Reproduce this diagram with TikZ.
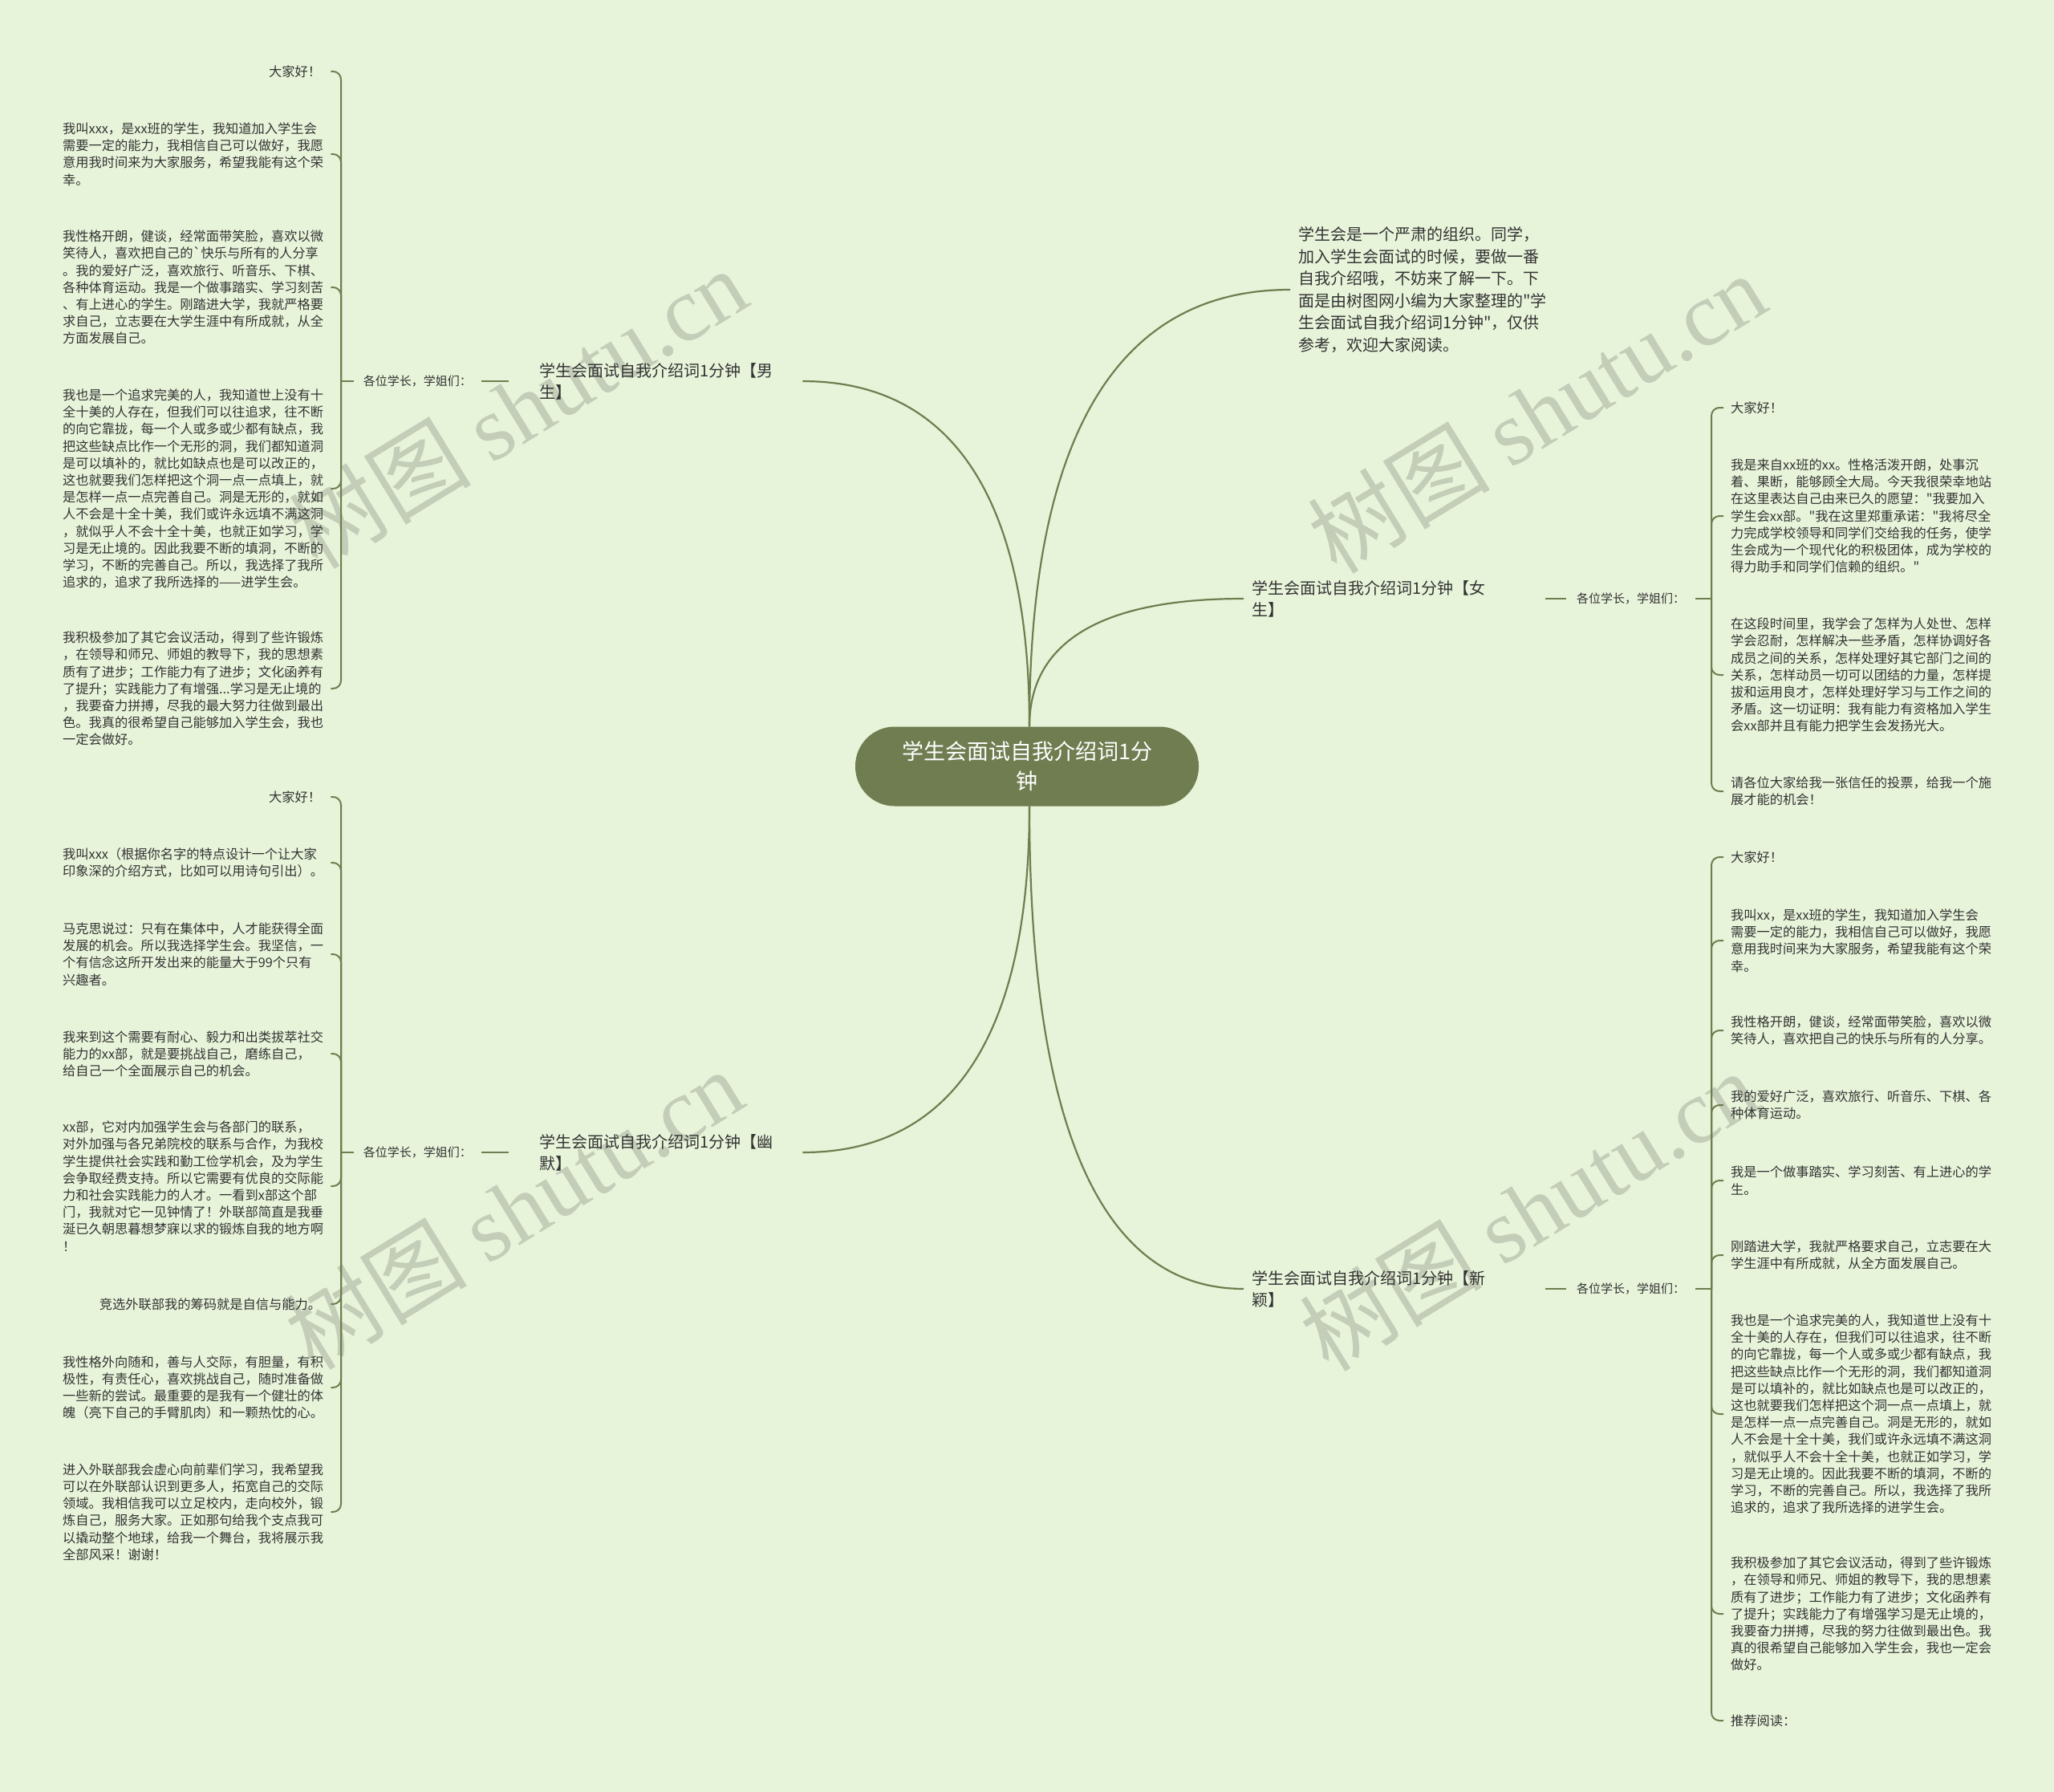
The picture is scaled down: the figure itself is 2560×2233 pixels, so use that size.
\documentclass[tikz,border=0pt]{standalone}
\usepackage{fontspec}
\setmainfont{Noto Sans CJK SC}[Ligatures=TeXOff]
\newfontfamily\wmlatin{Liberation Serif}
\definecolor{bgc}{HTML}{E8F4DA}
\definecolor{lnc}{HTML}{6F7D4F}
\definecolor{ctrc}{HTML}{6F7D50}
\definecolor{txc}{HTML}{333333}
\definecolor{wmc}{HTML}{8E9486}
\begin{document}
\begin{tikzpicture}[x=1pt,y=-1pt,
  branch/.style={draw=lnc, line width=2.2pt},
  brk/.style={draw=lnc, line width=2pt, rounded corners=10pt},
  leaf/.style={anchor=west, inner sep=0pt, text width=322pt, align=left, text=txc, font=\fontsize{16.25}{21.2}\selectfont},
  leafr/.style={leaf, align=right},
  rleaf/.style={leaf, text width=330pt},
  sublab/.style={inner xsep=12pt, inner ysep=2pt, text=txc, font=\fontsize{15}{18}\selectfont},
  lbranch/.style={anchor=west, inner xsep=38pt, inner ysep=2pt, text width=290pt, align=left, text=txc, font=\fontsize{20}{27}\selectfont},
  rbranch/.style={anchor=west, inner xsep=10pt, inner ysep=2pt, text width=356pt, align=left, text=txc, font=\fontsize{20}{27}\selectfont},
  summ/.style={anchor=west, inner xsep=10pt, inner ysep=2pt, align=left, text=txc, font=\fontsize{20}{27.6}\selectfont},
  ctrnode/.style={fill=ctrc, draw=none, rounded corners=49pt, minimum width=428pt, minimum height=99pt, align=center, text=white, font=\fontsize{27}{37}\selectfont},
  wm/.style={text=wmc, opacity=0.4, font=\fontsize{114}{120}\selectfont, rotate=31.5}
]
\useasboundingbox (0,0) rectangle (2560,2233);
\fill[bgc] (0,0) rectangle (2560,2233);

% watermarks
\node[wm] (w1) at (645,508) {树图 {\wmlatin shutu.cn}};
\node[wm] (w2) at (1915,514) {树图 {\wmlatin shutu.cn}};
\node[wm] (w3) at (640,1506) {树图 {\wmlatin shutu.cn}};
\node[wm] (w4) at (1905,1508) {树图 {\wmlatin shutu.cn}};

% center
\node[ctrnode] (c) at (1280,955) {学生会面试自我介绍词1分\\钟};

% summary
\node[summ] (sum) at (1608,361) {学生会是一个严肃的组织。同学，\\加入学生会面试的时候，要做一番\\自我介绍哦，不妨来了解一下。下\\面是由树图网小编为大家整理的"学\\生会面试自我介绍词1分钟"，仅供\\参考，欢迎大家阅读。};

% branches
\node[lbranch] (b1) at (634,475) {学生会面试自我介绍词1分钟【男\\生】};
\node[lbranch] (b2) at (634,1436) {学生会面试自我介绍词1分钟【幽\\默】};
\node[rbranch] (b3) at (1550,746) {学生会面试自我介绍词1分钟【女\\生】};
\node[rbranch] (b4) at (1550,1606) {学生会面试自我介绍词1分钟【新\\颖】};

% sub labels
\node[sublab, anchor=east] (s1) at (600,475) {各位学长，学姐们：};
\node[sublab, anchor=east] (s2) at (600,1436) {各位学长，学姐们：};
\node[sublab, anchor=west, inner xsep=13pt] (s3) at (1952,746) {各位学长，学姐们：};
\node[sublab, anchor=west, inner xsep=13pt] (s4) at (1952,1606) {各位学长，学姐们：};

\coordinate (J1) at (425,475);
\coordinate (J2) at (425,1436);
\coordinate (J3) at (2133,746);
\coordinate (J4) at (2133,1606);

% main curves
\draw[branch] ([xshift=3pt]c.north) .. controls (1283,540) and (1125,475) .. (b1.east);
\draw[branch] ([xshift=3pt]c.north) .. controls (1283,443) and (1462,361) .. (sum.west);
\draw[branch] ([xshift=3pt]c.north) .. controls (1283,770) and (1430,746) .. (b3.west);
\draw[branch] ([xshift=3pt]c.south) .. controls (1283,1371) and (1125,1436) .. (b2.east);
\draw[branch] ([xshift=3pt]c.south) .. controls (1283,1516) and (1430,1606) .. (b4.west);

% branch to sublabel
\draw[brk] (b1.west) -- (s1.east);
\draw[brk] (b2.west) -- (s2.east);
\draw[brk] (b3.east) -- (s3.west);
\draw[brk] (b4.east) -- (s4.west);
\draw[brk] (s1.west) -- (J1);
\draw[brk] (s2.west) -- (J2);
\draw[brk] (s3.east) -- (J3);
\draw[brk] (s4.east) -- (J4);

% ---- left group 1 (男生)
\node[leafr] (m1) at (78,89) {大家好！};
\node[leaf] (m2) at (78,192) {我叫xxx，是xx班的学生，我知道加入学生会\\需要一定的能力，我相信自己可以做好，我愿\\意用我时间来为大家服务，希望我能有这个荣\\幸。};
\node[leaf] (m3) at (78,358) {我性格开朗，健谈，经常面带笑脸，喜欢以微\\笑待人，喜欢把自己的\textasciigrave 快乐与所有的人分享\\。我的爱好广泛，喜欢旅行、听音乐、下棋、\\各种体育运动。我是一个做事踏实、学习刻苦\\、有上进心的学生。刚踏进大学，我就严格要\\求自己，立志要在大学生涯中有所成就，从全\\方面发展自己。};
\node[leaf] (m4) at (78,609) {我也是一个追求完美的人，我知道世上没有十\\全十美的人存在，但我们可以往追求，往不断\\的向它靠拢，每一个人或多或少都有缺点，我\\把这些缺点比作一个无形的洞，我们都知道洞\\是可以填补的，就比如缺点也是可以改正的，\\这也就要我们怎样把这个洞一点一点填上，就\\是怎样一点一点完善自己。洞是无形的，就如\\人不会是十全十美，我们或许永远填不满这洞\\，就似乎人不会十全十美，也就正如学习，学\\习是无止境的。因此我要不断的填洞，不断的\\学习，不断的完善自己。所以，我选择了我所\\追求的，追求了我所选择的——进学生会。};
\node[leaf] (m5) at (78,858) {我积极参加了其它会议活动，得到了些许锻炼\\，在领导和师兄、师姐的教导下，我的思想素\\质有了进步；工作能力有了进步；文化函养有\\了提升；实践能力了有增强...学习是无止境的\\，我要奋力拼搏，尽我的最大努力往做到最出\\色。我真的很希望自己能够加入学生会，我也\\一定会做好。};
\foreach \n in {m1,m2,m3,m4,m5} {\draw[brk] (J1) |- ([xshift=12pt]\n.east);}

% ---- left group 2 (幽默)
\node[leafr] (n1) at (78,993) {大家好！};
\node[leaf] (n2) at (78,1075) {我叫xxx（根据你名字的特点设计一个让大家\\印象深的介绍方式，比如可以用诗句引出）。};
\node[leaf] (n3) at (78,1189) {马克思说过：只有在集体中，人才能获得全面\\发展的机会。所以我选择学生会。我坚信，一\\个有信念这所开发出来的能量大于99个只有\\兴趣者。};
\node[leaf] (n4) at (78,1313) {我来到这个需要有耐心、毅力和出类拔萃社交\\能力的xx部，就是要挑战自己，磨练自己，\\给自己一个全面展示自己的机会。};
\node[leaf] (n5) at (78,1478) {xx部，它对内加强学生会与各部门的联系，\\对外加强与各兄弟院校的联系与合作，为我校\\学生提供社会实践和勤工俭学机会，及为学生\\会争取经费支持。所以它需要有优良的交际能\\力和社会实践能力的人才。一看到x部这个部\\门，我就对它一见钟情了！外联部简直是我垂\\涎已久朝思暮想梦寐以求的锻炼自我的地方啊\\！};
\node[leafr] (n6) at (78,1625) {竞选外联部我的筹码就是自信与能力。};
\node[leaf] (n7) at (78,1729) {我性格外向随和，善与人交际，有胆量，有积\\极性，有责任心，喜欢挑战自己，随时准备做\\一些新的尝试。最重要的是我有一个健壮的体\\魄（亮下自己的手臂肌肉）和一颗热忱的心。};
\node[leaf] (n8) at (78,1884) {进入外联部我会虚心向前辈们学习，我希望我\\可以在外联部认识到更多人，拓宽自己的交际\\领域。我相信我可以立足校内，走向校外，锻\\炼自己，服务大家。正如那句给我个支点我可\\以撬动整个地球，给我一个舞台，我将展示我\\全部风采！谢谢！};
\foreach \n in {n1,n2,n3,n4,n5,n6,n7,n8} {\draw[brk] (J2) |- ([xshift=12pt]\n.east);}

% ---- right group 女生
\node[rleaf] (f1) at (2157,508) {大家好！};
\node[rleaf] (f2) at (2157,643) {我是来自xx班的xx。性格活泼开朗，处事沉\\着、果断，能够顾全大局。今天我很荣幸地站\\在这里表达自己由来已久的愿望："我要加入\\学生会xx部。"我在这里郑重承诺："我将尽全\\力完成学校领导和同学们交给我的任务，使学\\生会成为一个现代化的积极团体，成为学校的\\得力助手和同学们信赖的组织。"};
\node[rleaf] (f3) at (2157,841) {在这段时间里，我学会了怎样为人处世、怎样\\学会忍耐，怎样解决一些矛盾，怎样协调好各\\成员之间的关系，怎样处理好其它部门之间的\\关系，怎样动员一切可以团结的力量，怎样提\\拔和运用良才，怎样处理好学习与工作之间的\\矛盾。这一切证明：我有能力有资格加入学生\\会xx部并且有能力把学生会发扬光大。};
\node[rleaf] (f4) at (2157,986) {请各位大家给我一张信任的投票，给我一个施\\展才能的机会！};
\foreach \n in {f1,f2,f3,f4} {\draw[brk] (J3) |- ([xshift=-9pt]\n.west);}

% ---- right group 新颖
\node[rleaf] (g1) at (2157,1068) {大家好！};
\node[rleaf] (g2) at (2157,1172) {我叫xx，是xx班的学生，我知道加入学生会\\需要一定的能力，我相信自己可以做好，我愿\\意用我时间来为大家服务，希望我能有这个荣\\幸。};
\node[rleaf] (g3) at (2157,1284) {我性格开朗，健谈，经常面带笑脸，喜欢以微\\笑待人，喜欢把自己的快乐与所有的人分享。};
\node[rleaf] (g4) at (2157,1377) {我的爱好广泛，喜欢旅行、听音乐、下棋、各\\种体育运动。};
\node[rleaf] (g5) at (2157,1471) {我是一个做事踏实、学习刻苦、有上进心的学\\生。};
\node[rleaf] (g6) at (2157,1564) {刚踏进大学，我就严格要求自己，立志要在大\\学生涯中有所成就，从全方面发展自己。};
\node[rleaf] (g7) at (2157,1762) {我也是一个追求完美的人，我知道世上没有十\\全十美的人存在，但我们可以往追求，往不断\\的向它靠拢，每一个人或多或少都有缺点，我\\把这些缺点比作一个无形的洞，我们都知道洞\\是可以填补的，就比如缺点也是可以改正的，\\这也就要我们怎样把这个洞一点一点填上，就\\是怎样一点一点完善自己。洞是无形的，就如\\人不会是十全十美，我们或许永远填不满这洞\\，就似乎人不会十全十美，也就正如学习，学\\习是无止境的。因此我要不断的填洞，不断的\\学习，不断的完善自己。所以，我选择了我所\\追求的，追求了我所选择的进学生会。};
\node[rleaf] (g8) at (2157,2011) {我积极参加了其它会议活动，得到了些许锻炼\\，在领导和师兄、师姐的教导下，我的思想素\\质有了进步；工作能力有了进步；文化函养有\\了提升；实践能力了有增强学习是无止境的，\\我要奋力拼搏，尽我的努力往做到最出色。我\\真的很希望自己能够加入学生会，我也一定会\\做好。};
\node[rleaf] (g9) at (2157,2144) {推荐阅读：};
\foreach \n in {g1,g2,g3,g4,g5,g6,g7,g8,g9} {\draw[brk] (J4) |- ([xshift=-9pt]\n.west);}
\end{tikzpicture}
\end{document}
